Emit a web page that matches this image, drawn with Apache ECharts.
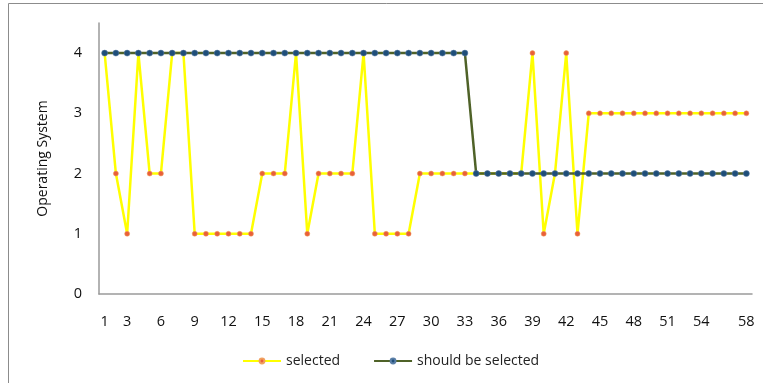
<!DOCTYPE html>
<html>
<head>
<meta charset="utf-8">
<script src="https://cdn.jsdelivr.net/npm/echarts@6/dist/echarts.min.js"></script>
<style>html,body{margin:0;padding:0;background:#fff}#c{width:763px;height:383px}</style>
</head>
<body>
<div id="c"></div>
<script>
var categories = [];
for (var i = 1; i <= 58; i++) categories.push(String(i));
var shownLabels = ['1','3','6','9','12','15','18','21','24','27','30','33','36','39','42','45','48','51','54','58'];
var selected = [4,2,1,4,2,2,4,4,1,1,1,1,1,1,2,2,2,4,1,2,2,2,2,4,1,1,1,1,2,2,2,2,2,2,2,2,2,2,4,1,2,4,1,3,3,3,3,3,3,3,3,3,3,3,3,3,3,3];
var shouldBeSelected = [4,4,4,4,4,4,4,4,4,4,4,4,4,4,4,4,4,4,4,4,4,4,4,4,4,4,4,4,4,4,4,4,4,2,2,2,2,2,2,2,2,2,2,2,2,2,2,2,2,2,2,2,2,2,2,2,2,2];
var yTicks = [0,1,2,3,4];

var font = "'Open Sans', 'Noto Sans', sans-serif";
var chart = echarts.init(document.getElementById('c'));
chart.setOption({
  animation: false,
  backgroundColor: '#fff',
  graphic: [{
    type: 'rect', silent: true, z: -1,
    shape: {x: 8.5, y: 3.5, width: 800, height: 420},
    style: {fill: 'none', stroke: '#8c8c8c', lineWidth: 1}
  }],
  grid: {left: 99, right: 11, top: 23, bottom: 89, containLabel: false},
  legend: {
    left: 237, top: 349,
    itemWidth: 38, itemHeight: 6, itemGap: 33,
    textStyle: {fontFamily: font, fontSize: 14, color: '#222'},
    data: ['selected', 'should be selected']
  },
  xAxis: {
    type: 'category',
    data: categories,
    boundaryGap: true,
    axisLine: {lineStyle: {color: '#9a9a9a', width: 1.5}},
    axisTick: {show: false},
    axisLabel: {
      interval: 0, margin: 20, color: '#111', fontFamily: font, fontSize: 14.5,
      formatter: function (v) { return shownLabels.indexOf(v) >= 0 ? v : ''; }
    }
  },
  yAxis: {
    type: 'value', min: 0, max: 4.5, interval: 1,
    name: 'Operating System', nameLocation: 'middle', nameGap: 49, nameRotate: 90,
    nameTextStyle: {fontFamily: font, fontSize: 14, color: '#111'},
    axisLine: {show: true, lineStyle: {color: '#9a9a9a', width: 1.5}},
    axisTick: {show: false},
    splitLine: {show: false},
    axisLabel: {
      margin: 17, color: '#111', fontFamily: font, fontSize: 14.5,
      formatter: function (v) { return yTicks.indexOf(v) >= 0 ? String(v) : ''; }
    }
  },
  series: [{
    name: 'selected', type: 'line', data: selected,
    symbol: 'circle', symbolSize: 5,
    lineStyle: {color: '#ffff00', width: 2.5},
    itemStyle: {color: '#e8603a', borderColor: '#f0a060', borderWidth: 0.5},
    z: 2
  }, {
    name: 'should be selected', type: 'line', data: shouldBeSelected,
    symbol: 'circle', symbolSize: 6,
    lineStyle: {color: '#4f6228', width: 2.5},
    itemStyle: {color: '#1f4e79', borderColor: '#5a7fa8', borderWidth: 0.5},
    z: 3
  }]
});
</script>
</body>
</html>
